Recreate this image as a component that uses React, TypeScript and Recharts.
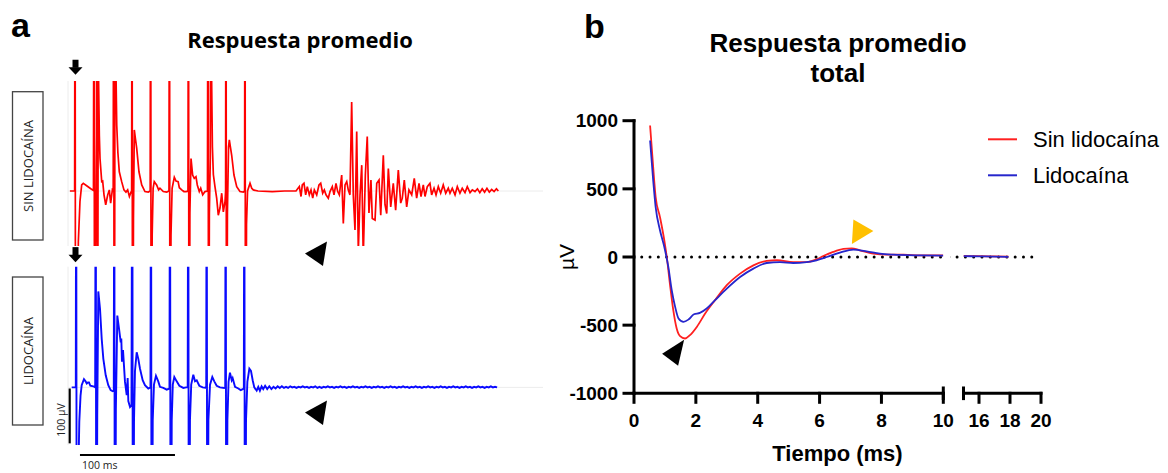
import React from 'react';
import { LineChart, Line, XAxis, YAxis, ReferenceLine, ReferenceDot } from 'recharts';

// ---------- Panel a: raw traces (time in ms, amplitude in µV) ----------
const redTrace: [number, number][] = [
  [2, 0], [7, 0],
  [7.4, 600], [8, -600], [10.9, -92], [12.6, -19], [14.4, 11], [16.1, 14], [20, 9], [24, 4], [26.8, 1],
  [27.4, 600], [28, -600], [29, -100], [30, 100], [30.5, 600], [31.1, -600], [31.8, 250], [33, 100], [33.7, 59], [35.5, 17], [36.5, 18], [37.9, -7], [39.7, -25], [41.8, -7], [43.5, 2], [44.9, -22], [46.7, 2], [47.6, 0],
  [48.1, 600], [48.6, -600], [49.2, -50], [49.6, 600], [50.2, 250], [51.3, 120], [52.5, 70], [54, 35], [56.5, 17], [58.9, 2], [61, -2], [62.8, 2], [64.6, -10], [66.3, -2], [67, 0],
  [67.4, 600], [68, -600], [68.9, -50], [69.8, 111], [71, 95], [72.3, 78], [74.7, 35], [77.6, 11], [81, -1], [84.5, -2], [86.5, 0],
  [87, 600], [87.6, -600], [88.6, -80], [89.6, 5], [90.8, 17], [92, 14], [93.3, 11], [95.4, 2], [96.8, 5], [100.3, -1], [103.9, -2], [106.3, 0],
  [106.8, 600], [107.4, -600], [108.4, -80], [109.6, 5], [111.9, 25], [113.7, 18], [115.9, 17], [117.2, 6], [119.7, 2], [122, -1], [124.3, -1], [126.3, 0],
  [126.8, 600], [127.4, -600], [128.3, -40], [129.5, 59], [131.2, 29], [132.9, 23], [134.7, 26], [136.1, 11], [138.2, -1], [139.7, 5], [141.8, -7], [144.2, -1], [146.8, 0],
  [147.4, 600], [148, -600], [148.8, -40], [149.8, 60], [150.5, 600], [151.2, 200], [152, 80], [153, 30], [154.7, 8], [156.5, -13], [158.2, -44], [160, -31], [161.8, -4], [163.5, -38], [165.3, -19], [165.9, 0],
  [166.3, 600], [166.9, -600], [167.8, -40], [169, 80], [169.8, 93], [172.3, 65], [174.7, 29], [177.6, 8], [181, -1], [184.5, -2], [185.9, 0],
  [186.3, 600], [186.9, -600], [187.9, -60], [189, 0], [191.6, 14], [193.4, 5], [195.1, 2], [200, 0], [215, -1], [228, 0], [240, 0],
  [243.5, 8], [245.3, -10], [246.6, 11], [248.4, 14], [250.2, -7], [251.9, 8], [254, -7], [255.8, 2], [257.6, -13], [259.3, 2], [261.8, -7], [264.2, 11], [266, 14], [268.1, -4], [269.8, 2], [271.6, -7], [274, -13], [275.8, -1], [278.2, 8], [280, -7], [282.1, 14], [283.9, -1], [285.6, -7],
  [288.1, 29], [289.8, -59], [291.6, 11], [293.4, 17], [295, 2], [296.8, -7], [298.6, 162], [300.3, -7], [302.1, -71], [303.9, 108], [305.6, -110], [307.4, -7], [309.2, 47], [310.8, -120], [313, 29], [315, 99], [316.8, -40], [318.9, 20], [320.3, -50], [323.2, -53], [325, 14], [327.4, 20], [329.2, -44], [331.9, 65], [333.7, -25], [335.5, -41], [337.2, 41], [339.7, -29], [342.4, 14], [344.9, -35], [347.7, 38], [350.2, -22], [351.9, -13], [354, 20], [356.5, -29], [358.9, 2], [361.8, -7], [364.5, 23], [367, -13], [369.5, 14], [371.6, -10], [374, 11], [375.8, -10], [378.2, 8], [381, 14], [382.8, -7], [385.3, 5], [387.4, -7], [389.8, 8], [392.3, -4], [395, 11], [397.6, -4], [400.3, 5], [402.1, -4], [404.5, 5], [407.4, -7], [409.8, 8], [412.6, -4], [415, 5], [417.9, -3], [420.3, 8], [423.2, -3], [425.6, 2], [428.4, -1], [431, 4], [433.5, -3], [436, 4], [438.5, -2], [441, 5], [443.5, -2], [446, 3], [448.5, -1], [451, 4], [453, 0],
];

const blueTrace: [number, number][] = [
  [3.9, 0], [8.2, 0],
  [8.6, 600], [9.2, -600], [10.5, -200], [11.9, -62], [13.2, -15], [14.4, 4], [16.8, 15], [18.5, 11], [19.7, 7], [21, 9], [22.1, 9], [23.5, 3], [26.6, 2], [28.6, 0],
  [29.2, 600], [29.8, -600], [30.8, -50], [31.9, 175], [33.7, 143], [35.5, 88], [37.2, 52], [39.7, 22], [42.4, 4], [44.9, -5], [47, -7], [48.2, -6],
  [48.7, 600], [49.3, -600], [50.4, -40], [51.9, 131], [53.7, 107], [55.5, 82], [56.1, 89], [56.8, 47], [57.9, 68], [60, 10], [61.8, -14], [62.8, 17], [63.5, -25], [65.3, -36], [66.8, -33],
  [67.7, 600], [68.3, -600], [69.5, -60], [70.5, 30], [72.3, 64], [74, 52], [75.8, 34], [78.6, 13], [81, 4], [84.5, -2], [86.8, 0],
  [87.4, 600], [88, -600], [89.2, -60], [90.5, 5], [92.6, 21], [95, 11], [96.8, 1], [100.3, -1], [103.9, -4], [106.8, -2],
  [107.4, 600], [108, -600], [109.2, -60], [110.3, 5], [111.9, 19], [114.4, 11], [117.2, 3], [121.4, -1], [124.3, 0], [126, 0],
  [126.6, 600], [127.2, -600], [128.4, -60], [129.7, 5], [131.9, 23], [133.7, 11], [135.5, 13], [138.2, 3], [141.8, 0], [145.5, -1],
  [146, 600], [146.6, -600], [147.8, -60], [149.5, 5], [151.9, 19], [154, 11], [156.5, 3], [160, 0], [164.5, -1], [165.5, 0],
  [166, 600], [166.6, -600], [167.8, -60], [169, 10], [170.5, 27], [172.3, 13], [173.3, 17], [175.8, 1], [179.3, -2], [181.8, -5], [184, -3], [185.1, -2],
  [185.6, 600], [186.2, -600], [187.4, -60], [188.8, 10], [190.9, 34], [192.6, 30], [194.4, 13], [196.1, 0], [198.6, -6], [200.3, 1], [202, -6], [203.8, 2], [205.5, -3], [207.5, 3],
  [209.7, -3], [211.9, 2], [214.1, -3], [216.3, 1], [218.5, -2], [220.7, 2], [222.9, -1], [225.1, 2], [227.3, -1], [229.5, 1], [231.7, -1], [233.9, 2], [236.1, 0], [238.3, 1], [240.5, -1], [242.7, 1], [244.9, 0], [247.1, 2], [249.3, 0], [251.5, 1], [253.7, -1], [255.9, 1], [258.1, 0], [260.3, 2], [262.5, -1], [264.7, 1], [266.9, -1], [269.1, 1], [271.3, 0], [273.5, 2], [275.7, 0], [277.9, 1], [280.1, -1], [282.3, 1], [284.5, 0], [286.7, 2], [288.9, 0], [291.1, 1], [293.3, -1], [295.5, 1], [297.7, 0], [299.9, 2], [302.1, 0], [304.3, 1], [306.5, -1], [308.7, 1], [310.9, 0], [313.1, 2], [315.3, 0], [317.5, 1], [319.7, -1], [321.9, 1], [324.1, 0], [326.3, 2], [328.5, 0], [330.7, 1], [332.9, -1], [335.1, 1], [337.3, 0], [339.5, 2], [341.7, 0], [343.9, 1], [346.1, -1], [348.3, 1], [350.5, 0], [352.7, 2], [354.9, 0], [357.1, 1], [359.3, -1], [361.5, 1], [363.7, 0], [365.9, 2], [368.1, 0], [370.3, 1], [372.5, -1], [374.7, 1], [376.9, 0], [379.1, 2], [381.3, 0], [383.5, 1], [385.7, -1], [387.9, 1], [390.1, 0], [392.3, 2], [394.5, 0], [396.7, 1], [398.9, -1], [401.1, 1], [403.3, 0], [405.5, 2], [407.7, 0], [409.9, 1], [412.1, -1], [414.3, 1], [416.5, 0], [418.7, 2], [420.9, 0], [423.1, 1], [425.3, -1], [427.5, 1], [429.7, 0], [431.9, 2], [434.1, 0], [436.3, 1], [438.5, -1], [440.7, 1], [442.9, 0], [445.1, 2], [447.3, 0], [449.5, 1], [451.7, 0],
];

// ---------- Panel b: average total response (time in ms, µV) ----------
const sinLidocaina: [number, number][] = [
  [0.52, 965], [0.62, 659], [0.70, 440], [0.84, 293], [0.98, 122], [1.06, 0], [1.16, -195], [1.27, -390], [1.38, -525], [1.49, -581], [1.65, -598], [1.81, -573], [2.03, -513], [2.30, -415], [2.62, -317], [3.0, -207], [3.43, -122], [3.86, -61], [4.29, -29], [4.62, -24], [5.15, -37], [5.58, -37], [5.9, -17], [6.12, 7], [6.44, 37], [6.77, 59], [7.04, 64], [7.3, 49], [7.74, 25], [8.17, 17], [8.71, 17], [9.25, 12], [10.0, 12],
  [15.0, 8], [16.0, 6], [17.0, 4], [17.9, 3],
];
const lidocaina: [number, number][] = [
  [0.52, 855], [0.62, 562], [0.70, 366], [0.84, 196], [0.98, 73], [1.11, -73], [1.22, -244], [1.33, -366], [1.44, -451], [1.60, -476], [1.76, -459], [1.94, -420], [2.13, -410], [2.35, -378], [2.62, -317], [3.0, -232], [3.43, -147], [3.86, -85], [4.29, -44], [4.72, -37], [5.15, -44], [5.58, -37], [5.9, -24], [6.23, 0], [6.66, 32], [7.09, 54], [7.52, 42], [7.95, 24], [8.38, 17], [9.25, 12], [10.0, 10],
  [15.0, 6], [16.0, 5], [17.0, 3], [17.9, 1],
];

const seriesNames = ['Sin lidocaína', 'Lidocaína'];
const seriesColors = ['#ff2020', '#2626cc'];
const yTicksB = [-1000, -500, 0, 500, 1000];
const xTicksLeft = [0, 2, 4, 6, 8, 10];
const xTicksRight = [16, 18, 20];

const toRows = (pairs: [number, number][]) => pairs.map(([t, v]) => ({ t, v }));

const ARIAL = '"Liberation Sans", Arial, sans-serif';
const OPEN = '"Open Sans", "Liberation Sans", sans-serif';

const DownArrow = (p: any) => {
  const { cx, cy } = p;
  return (
    <g>
      <rect x={cx - 3} y={cy - 7.5} width={6} height={8} fill="#000" />
      <polygon points={`${cx - 7},${cy} ${cx + 7},${cy} ${cx},${cy + 7.5}`} fill="#000" />
    </g>
  );
};

const UpRightHead = (p: any) => {
  const { cx, cy } = p;
  return <polygon points={`${cx},${cy} ${cx - 22},${cy + 12} ${cx - 4},${cy + 24.5}`} fill="#000" />;
};

const BlackHeadB = (p: any) => {
  const { cx, cy } = p;
  return <polygon points={`${cx},${cy + 1} ${cx - 22},${cy + 15} ${cx - 6},${cy + 27}`} fill="#000" />;
};

const YellowHead = (p: any) => {
  const { cx, cy } = p;
  return <polygon points={`${cx},${cy} ${cx - 20},${cy - 11.5} ${cx - 21.5},${cy + 13}`} fill="#ffc000" />;
};

const faint = '#ececec';

export default function App() {
  const redRows = toRows(redTrace);
  const blueRows = toRows(blueTrace);
  const sinLeft = toRows(sinLidocaina.filter(([t]) => t <= 10));
  const lidLeft = toRows(lidocaina.filter(([t]) => t <= 10));
  const sinRight = toRows(sinLidocaina.filter(([t]) => t >= 15));
  const lidRight = toRows(lidocaina.filter(([t]) => t >= 15));

  const axisStyle = { stroke: '#000', strokeWidth: 3, strokeLinecap: 'square' as const };
  const tickFont = { fill: '#000', fontSize: 19, fontWeight: 700, fontFamily: ARIAL };

  return (
    <div style={{ position: 'absolute', left: 0, top: 0, width: 1168, height: 473, background: '#fff', overflow: 'hidden' }}>
      {/* Red trace */}
      <div style={{ position: 'absolute', left: 0, top: 50 }}>
        <LineChart width={560} height={230} data={redRows} margin={{ top: 31, right: 17, bottom: 34, left: 58 }}>
          <XAxis dataKey="t" type="number" domain={[0, 500]} allowDataOverflow hide height={0} />
          <YAxis type="number" domain={[-100, 200]} allowDataOverflow width={10} ticks={[-100, 0, 100, 200]} tick={false} tickSize={5} axisLine={{ stroke: faint }} tickLine={{ stroke: faint }} />
          <ReferenceLine y={0} stroke={faint} />
          <Line type="linear" dataKey="v" stroke="#ff0000" strokeWidth={1.7} dot={false} isAnimationActive={false} />
          <ReferenceDot x={7.9} y={225} r={1} ifOverflow="visible" shape={DownArrow} />
          <ReferenceDot x={272.6} y={-92} r={1} ifOverflow="visible" shape={UpRightHead} />
        </LineChart>
      </div>

      {/* Blue trace */}
      <div style={{ position: 'absolute', left: 0, top: 240 }}>
        <LineChart width={560} height={233} data={blueRows} margin={{ top: 26.7, right: 17, bottom: 28, left: 58 }}>
          <XAxis dataKey="t" type="number" domain={[0, 500]} allowDataOverflow hide height={0} />
          <YAxis type="number" domain={[-105, 220]} allowDataOverflow width={10} ticks={[0, 110, 220]} tick={false} tickSize={5} axisLine={{ stroke: faint }} tickLine={{ stroke: faint }} />
          <ReferenceLine y={0} stroke={faint} />
          <Line type="linear" dataKey="v" stroke="#0a0aff" strokeWidth={1.9} dot={false} isAnimationActive={false} />
          <ReferenceDot x={7.9} y={242} r={1} ifOverflow="visible" shape={DownArrow} />
          <ReferenceDot x={272.6} y={-24} r={1} ifOverflow="visible" shape={UpRightHead} />
          {/* scale bars: 100 ms and 100 µV */}
          <ReferenceLine segment={[{ x: 12.6, y: -123 }, { x: 112.6, y: -123 }]} stroke="#000" strokeWidth={2} ifOverflow="visible" />
          <ReferenceLine segment={[{ x: 1.6, y: -2 }, { x: 1.6, y: -102 }]} stroke="#000" strokeWidth={2.5} ifOverflow="visible" />
        </LineChart>
      </div>

      {/* Panel b, left segment 0-10 ms */}
      <div style={{ position: 'absolute', left: 520, top: 90 }}>
        <LineChart width={450} height={380} margin={{ top: 30.7, right: 26.7, bottom: 36.7, left: 54 }}>
          <XAxis dataKey="t" type="number" domain={[0, 10]} ticks={xTicksLeft} interval={0} allowDataOverflow height={40}
            tickSize={9} tickMargin={11} axisLine={axisStyle} tickLine={axisStyle} tick={tickFont} />
          <YAxis type="number" domain={[-1000, 1000]} ticks={yTicksB} interval={0} allowDataOverflow width={60}
            tickSize={10} tickMargin={6} axisLine={axisStyle} tickLine={axisStyle} tick={tickFont} />
          <ReferenceLine segment={[{ x: 0.25, y: 0 }, { x: 10, y: 0 }]} stroke="#000" strokeWidth={3} strokeDasharray="0 8.3" strokeLinecap="round" ifOverflow="visible" />
          <ReferenceLine segment={[{ x: 10, y: -1050 }, { x: 10, y: -950 }]} stroke="#000" strokeWidth={3} ifOverflow="visible" />
          <Line data={sinLeft} type="monotone" dataKey="v" name={seriesNames[0]} stroke={seriesColors[0]} strokeWidth={1.8} dot={false} isAnimationActive={false} />
          <Line data={lidLeft} type="monotone" dataKey="v" name={seriesNames[1]} stroke={seriesColors[1]} strokeWidth={1.8} dot={false} isAnimationActive={false} />
          <ReferenceDot x={1.62} y={-600} r={1} ifOverflow="visible" shape={BlackHeadB} />
          <ReferenceDot x={7.74} y={190} r={1} ifOverflow="visible" shape={YellowHead} />
        </LineChart>
      </div>

      {/* Panel b, right segment 15-20 ms */}
      <div style={{ position: 'absolute', left: 950, top: 90 }}>
        <LineChart width={218} height={380} margin={{ top: 30.7, right: 127, bottom: 36.7, left: 13.5 }}>
          <XAxis dataKey="t" type="number" domain={[15, 20]} ticks={xTicksRight} interval={0} allowDataOverflow height={40}
            tickSize={9} tickMargin={11} axisLine={axisStyle} tickLine={axisStyle} tick={tickFont} />
          <YAxis type="number" domain={[-1000, 1000]} allowDataOverflow hide width={0} />
          <ReferenceLine segment={[{ x: 14.05, y: 0 }, { x: 19.62, y: 0 }]} stroke="#000" strokeWidth={3} strokeDasharray="0 8.3" strokeLinecap="round" ifOverflow="visible" />
          <ReferenceLine segment={[{ x: 15, y: -1050 }, { x: 15, y: -950 }]} stroke="#000" strokeWidth={3} ifOverflow="visible" />
          <Line data={sinRight} type="monotone" dataKey="v" name={seriesNames[0]} stroke={seriesColors[0]} strokeWidth={1.8} dot={false} isAnimationActive={false} />
          <Line data={lidRight} type="monotone" dataKey="v" name={seriesNames[1]} stroke={seriesColors[1]} strokeWidth={1.8} dot={false} isAnimationActive={false} />
        </LineChart>
      </div>

      {/* Text annotations */}
      <svg width={1168} height={473} style={{ position: 'absolute', left: 0, top: 0, pointerEvents: 'none' }}>
        <text x={11} y={37} fontFamily={ARIAL} fontWeight={700} fontSize={34} fill="#000">a</text>
        <text x={584} y={38} fontFamily={ARIAL} fontWeight={700} fontSize={34} fill="#000">b</text>
        <text x={300} y={48} textAnchor="middle" fontFamily={OPEN} fontWeight={700} fontSize={22} fill="#000">Respuesta promedio</text>
        <text x={838} y={52} textAnchor="middle" fontFamily={ARIAL} fontWeight={700} fontSize={26} fill="#000">Respuesta promedio</text>
        <text x={838} y={82} textAnchor="middle" fontFamily={ARIAL} fontWeight={700} fontSize={26} fill="#000">total</text>

        <rect x={12.5} y={91.7} width={30.5} height={148.3} fill="none" stroke="#444" strokeWidth={1.3} />
        <text x={28} y={166} transform="rotate(-90 28 166)" textAnchor="middle" dominantBaseline="central" fontFamily={OPEN} fontSize={13} fill="#222">SIN LIDOCAÍNA</text>
        <rect x={12.5} y={277} width={30.5} height={148} fill="none" stroke="#444" strokeWidth={1.3} />
        <text x={28} y={351} transform="rotate(-90 28 351)" textAnchor="middle" dominantBaseline="central" fontFamily={OPEN} fontSize={13} fill="#222">LIDOCAÍNA</text>

        <text x={61} y={420} transform="rotate(-90 61 420)" textAnchor="middle" dominantBaseline="central" fontFamily={OPEN} fontSize={10.5} fill="#222">100 µV</text>
        <text x={82} y={469} fontFamily={OPEN} fontSize={10.5} fill="#222">100 ms</text>

        <text x={566} y={257} transform="rotate(-90 566 257)" textAnchor="middle" dominantBaseline="central" fontFamily={ARIAL} fontSize={21} fill="#000">µV</text>
        <text x={837.5} y={461} textAnchor="middle" fontFamily={ARIAL} fontWeight={700} fontSize={22} fill="#000">Tiempo (ms)</text>

        {seriesNames.map((name, i) => (
          <g key={name}>
            <line x1={988} x2={1017} y1={139.3 + i * 36} y2={139.3 + i * 36} stroke={seriesColors[i]} strokeWidth={2} />
            <text x={1033} y={147 + i * 36} fontFamily={ARIAL} fontSize={22} fill="#000">{name}</text>
          </g>
        ))}
      </svg>
    </div>
  );
}
